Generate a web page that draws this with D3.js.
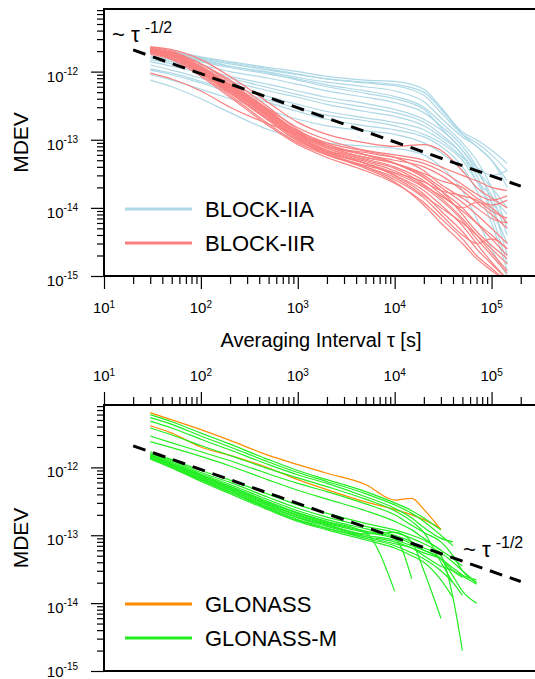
<!DOCTYPE html>
<html>
<head>
<meta charset="utf-8">
<script src="https://cdn.jsdelivr.net/npm/d3@7"></script>
<style>
  body { margin: 0; background: #fff; }
  svg { display: block; font-family: "Liberation Sans", Arial, Helvetica, sans-serif; }
</style>
</head>
<body>
<svg id="chart" width="535" height="679"></svg>
<script>
// averaging intervals (s) the curves were sampled at
const tauTop = [30, 50, 100, 200, 500, 1e3, 2e3, 5e3, 1e4, 2e4, 3e4, 5e4, 7e4, 1e5, 1.45e5];
const tauBottom = [30, 50, 100, 200, 500, 1e3, 2e3, 5e3, 1e4, 1.5e4, 2e4, 3e4, 4e4, 5e4, 7e4];

// GPS BLOCK-IIA clocks (MDEV at tauTop)
const blockIIA = [
  [2.2e-12, 2.0e-12, 1.65e-12, 1.4e-12, 1.15e-12, 1.0e-12, 8.5e-13, 7.5e-13, 7.2e-13, 5.5e-13, 3e-13, 1.3e-13, 1.0e-13, 7e-14, 4.5e-14],
  [2.1e-12, 1.9e-12, 1.55e-12, 1.3e-12, 1.05e-12, 9e-13, 7.8e-13, 6.8e-13, 6.2e-13, 4.5e-13, 2.5e-13, 1.2e-13, 9e-14, 6e-14, 3.5e-14],
  [2.0e-12, 1.8e-12, 1.45e-12, 1.2e-12, 9.8e-13, 8.2e-13, 7e-13, 6e-13, 5.2e-13, 3.6e-13, 2.1e-13, 1.1e-13, 8e-14, 5e-14, 2e-14],
  [1.9e-12, 1.7e-12, 1.4e-12, 1.15e-12, 9.2e-13, 7.8e-13, 6.4e-13, 5.2e-13, 4.3e-13, 3e-13, 1.8e-13, 9e-14, 5e-14, 2e-14, 5e-15],
  [1.7e-12, 1.5e-12, 1.25e-12, 1.0e-12, 8e-13, 6.5e-13, 5.2e-13, 4.2e-13, 3.5e-13, 2.5e-13, 1.6e-13, 8e-14, 4e-14, 1.2e-14, 2e-15],
  [1.6e-12, 1.4e-12, 1.1e-12, 8.5e-13, 6.5e-13, 5.2e-13, 4.2e-13, 3.4e-13, 2.8e-13, 2e-13, 1.4e-13, 7e-14, 3.5e-14, 1.5e-14, 4e-15],
  [1.4e-12, 1.2e-12, 9.5e-13, 7.2e-13, 5.2e-13, 4.2e-13, 3.3e-13, 2.6e-13, 2.2e-13, 1.6e-13, 1.1e-13, 6e-14, 3e-14, 8e-15, 1.5e-15],
  [1.25e-12, 1.05e-12, 8e-13, 6e-13, 4.3e-13, 3.3e-13, 2.6e-13, 2.1e-13, 1.8e-13, 1.4e-13, 1.0e-13, 5.5e-14, 3.5e-14, 2e-14, 1e-14],
  [1.05e-12, 9e-13, 6.8e-13, 5e-13, 3.5e-13, 2.6e-13, 2e-13, 1.6e-13, 1.4e-13, 1.1e-13, 8e-14, 4e-14, 1.8e-14, 6e-15, 1.2e-15],
  [9e-13, 7.5e-13, 5.5e-13, 4e-13, 2.7e-13, 2e-13, 1.6e-13, 1.35e-13, 1.2e-13, 9e-14, 6.5e-14, 3.5e-14, 2e-14, 1.2e-14, 6e-15],
  [7.5e-13, 6e-13, 4e-13, 2.5e-13, 1.4e-13, 1.05e-13, 9e-14, 8e-14, 7.5e-14, 6e-14, 4e-14, 1.8e-14, 7e-15, 2.5e-15, 1e-15],
  [2.0e-12, 1.8e-12, 1.5e-12, 1.2e-12, 9.5e-13, 7.5e-13, 6e-13, 4.8e-13, 4e-13, 2.8e-13, 1.5e-13, 7e-14, 4e-14, 3e-14, 3.5e-14],
  [1.5e-12, 1.3e-12, 1.0e-12, 8e-13, 5.8e-13, 4.6e-13, 3.7e-13, 3e-13, 2.5e-13, 1.8e-13, 1.2e-13, 6e-14, 2.5e-14, 1e-14, 3e-15],
  [1.1e-12, 9.5e-13, 7.2e-13, 5.3e-13, 3.8e-13, 2.9e-13, 2.3e-13, 1.9e-13, 1.6e-13, 1.2e-13, 9e-14, 5e-14, 2.5e-14, 1.5e-14, 8e-15],
  [2.1e-12, 1.9e-12, 1.6e-12, 1.35e-12, 1.1e-12, 9.2e-13, 7.8e-13, 7e-13, 6.5e-13, 5e-13, 2.8e-13, 1.2e-13, 8e-14, 5e-14, 2.5e-14]
];

// GPS BLOCK-IIR clocks (MDEV at tauTop)
const blockIIR = [
  [9.5e-13, 7.8e-13, 5.2e-13, 3e-13, 1.7e-13, 1.2e-13, 8.5e-14, 6e-14, 4.5e-14, 2.8e-14, 1.8e-14, 1e-14, 6e-15, 3.5e-15, 2e-15],
  [2.3e-12, 2.1e-12, 1.5e-12, 8.5e-13, 3.5e-13, 1.8e-13, 1.2e-13, 9e-14, 8e-14, 8.5e-14, 7e-14, 3.5e-14, 2e-14, 1.4e-14, 1e-14],
  [2.2e-12, 1.9e-12, 1.3e-12, 7e-13, 2.8e-13, 1.5e-13, 1e-13, 7e-14, 6e-14, 5e-14, 4e-14, 3e-14, 2.5e-14, 2e-14, 1.8e-14],
  [2.1e-12, 1.8e-12, 1.2e-12, 6.5e-13, 2.6e-13, 1.3e-13, 8e-14, 5.5e-14, 4.5e-14, 3e-14, 2e-14, 1.2e-14, 8e-15, 5e-15, 3e-15],
  [2.0e-12, 1.7e-12, 1.1e-12, 6e-13, 2.4e-13, 1.2e-13, 7.5e-14, 5e-14, 3.8e-14, 2.2e-14, 1.4e-14, 7e-15, 4e-15, 2.2e-15, 1.2e-15],
  [2.2e-12, 1.8e-12, 1.0e-12, 5e-13, 2e-13, 1.1e-13, 7e-14, 5.2e-14, 4e-14, 2.5e-14, 1.6e-14, 1e-14, 1.2e-14, 1e-14, 6e-15],
  [1.9e-12, 1.6e-12, 9.5e-13, 4.8e-13, 1.9e-13, 9.5e-14, 6.5e-14, 4.5e-14, 3e-14, 1.6e-14, 9e-15, 4.5e-15, 2.5e-15, 1.5e-15, 9e-16],
  [2.1e-12, 1.7e-12, 1.0e-12, 5.2e-13, 2.2e-13, 1.1e-13, 6.5e-14, 4e-14, 2.8e-14, 1.5e-14, 1e-14, 6e-15, 4e-15, 2.5e-15, 1.5e-15],
  [2.0e-12, 1.6e-12, 9e-13, 4.5e-13, 1.7e-13, 9e-14, 6e-14, 4.2e-14, 3.2e-14, 2e-14, 1.3e-14, 6.5e-15, 3.5e-15, 2e-15, 1.1e-15],
  [2.3e-12, 2.0e-12, 1.3e-12, 7.5e-13, 3e-13, 1.4e-13, 8.5e-14, 6e-14, 5e-14, 4e-14, 3e-14, 1.8e-14, 1.2e-14, 8e-15, 5e-15],
  [1.8e-12, 1.5e-12, 8.5e-13, 4.2e-13, 1.6e-13, 8.5e-14, 5.5e-14, 3.5e-14, 2.3e-14, 1.2e-14, 7e-15, 3.5e-15, 2e-15, 1.3e-15, 8e-16],
  [2.2e-12, 1.9e-12, 1.2e-12, 6.5e-13, 2.7e-13, 1.3e-13, 8e-14, 6.5e-14, 5.5e-14, 4.5e-14, 3.5e-14, 2.2e-14, 1.6e-14, 1.3e-14, 1.5e-14],
  [2.0e-12, 1.7e-12, 1.0e-12, 5.3e-13, 2.1e-13, 1.0e-13, 6e-14, 4e-14, 2.6e-14, 1.4e-14, 8e-15, 4e-15, 3e-15, 3.5e-15, 2.5e-15],
  [2.1e-12, 1.8e-12, 1.1e-12, 5.8e-13, 2.3e-13, 1.15e-13, 7e-14, 4.8e-14, 3.5e-14, 2.1e-14, 1.5e-14, 9e-15, 6e-15, 4e-15, 2.5e-15],
  [1.9e-12, 1.6e-12, 9.5e-13, 5e-13, 2e-13, 1.0e-13, 6.5e-14, 4.5e-14, 3.3e-14, 2.4e-14, 1.8e-14, 1.5e-14, 1.3e-14, 9e-15, 7e-15],
  [2.2e-12, 1.8e-12, 1.1e-12, 6e-13, 2.5e-13, 1.25e-13, 8e-14, 6e-14, 4.5e-14, 2.8e-14, 1.8e-14, 8e-15, 4.5e-15, 2.8e-15, 1.8e-15],
  [2.0e-12, 1.7e-12, 1.05e-12, 5.6e-13, 2.3e-13, 1.05e-13, 6.2e-14, 3.8e-14, 2.4e-14, 1.1e-14, 6e-15, 3e-15, 1.8e-15, 1.2e-15, 8e-16],
  [2.1e-12, 1.75e-12, 1.1e-12, 6.2e-13, 2.6e-13, 1.35e-13, 9e-14, 6.8e-14, 5.5e-14, 3.5e-14, 2.2e-14, 1.4e-14, 1e-14, 7e-15, 6e-15],
  [1.9e-12, 1.55e-12, 9.8e-13, 5.5e-13, 2.2e-13, 1.1e-13, 6.8e-14, 4.5e-14, 3e-14, 1.8e-14, 1.1e-14, 5.5e-15, 3e-15, 1.6e-15, 9e-16],
  [2.2e-12, 1.9e-12, 1.15e-12, 6.3e-13, 2.6e-13, 1.2e-13, 7.5e-14, 5.5e-14, 4.5e-14, 3.2e-14, 2.5e-14, 2e-14, 1.4e-14, 1.1e-14, 1.3e-14]
];

// GLONASS clocks (MDEV at tauBottom, null = no data)
const glonass = [
  [6.4e-12, 5.0e-12, 3.6e-12, 2.5e-12, 1.5e-12, 1.1e-12, 8.2e-13, 5.6e-13, 3.3e-13, 3.5e-13, 2.4e-13, 1.2e-13, null, null, null],
  [4.1e-12, 3.2e-12, 2.0e-12, 1.5e-12, 9.8e-13, 6.6e-13, 4.7e-13, 3.1e-13, 2.4e-13, 2e-13, 1.7e-13, 1.25e-13, null, null, null]
];

// GLONASS-M clocks (MDEV at tauBottom)
const glonassM = [
  [6.0e-12, 4.7e-12, 3.2e-12, 2.2e-12, 1.3e-12, 9e-13, 6.6e-13, 4.4e-13, 3e-13, 2.3e-13, 1.8e-13, 1.2e-13, null, null, null],
  [5.4e-12, 4.3e-12, 2.9e-12, 2.0e-12, 1.2e-12, 8.4e-13, 6.2e-13, 4.1e-13, 2.8e-13, 2.1e-13, 1.6e-13, 1.0e-13, 7e-14, null, null],
  [4.8e-12, 3.8e-12, 2.6e-12, 1.8e-12, 1.1e-12, 7.8e-13, 5.8e-13, 3.7e-13, 2.5e-13, 1.8e-13, 1.3e-13, 9e-14, 8e-14, null, null],
  [3.8e-12, 3.0e-12, 2.1e-12, 1.5e-12, 9.5e-13, 7e-13, 5.2e-13, 3.4e-13, 2.3e-13, 1.6e-13, 1.1e-13, 4e-14, 2e-14, null, null],
  [2.9e-12, 2.3e-12, 1.7e-12, 1.25e-12, 8e-13, 5.8e-13, 4.4e-13, 2.9e-13, 2e-13, 1.4e-13, 1.1e-13, 8e-14, 5e-14, 3e-14, 2e-14],
  [2.4e-12, 1.95e-12, 1.45e-12, 1.05e-12, 6.5e-13, 4.6e-13, 3.4e-13, 2.3e-13, 1.6e-13, 1.2e-13, 9e-14, 6e-14, 4.5e-14, 3.5e-14, null],
  [1.7e-12, 1.3e-12, 9e-13, 6.5e-13, 4e-13, 2.8e-13, 2.1e-13, 1.5e-13, 1.2e-13, 1e-13, 8.5e-14, 6e-14, null, null, null],
  [1.6e-12, 1.25e-12, 8.4e-13, 6e-13, 3.6e-13, 2.5e-13, 1.85e-13, 1.35e-13, 1.1e-13, 9e-14, 7.5e-14, 5.5e-14, 4e-14, 3e-14, 2e-14],
  [1.55e-12, 1.2e-12, 8e-13, 5.6e-13, 3.3e-13, 2.3e-13, 1.7e-13, 1.25e-13, 1e-13, 8e-14, 6.5e-14, 5e-14, 1.2e-14, 2e-15, null],
  [1.5e-12, 1.15e-12, 7.7e-13, 5.3e-13, 3.1e-13, 2.15e-13, 1.6e-13, 1.1e-13, 1.5e-14, null, null, null, null, null, null],
  [1.48e-12, 1.12e-12, 7.4e-13, 5e-13, 2.9e-13, 2e-13, 1.5e-13, 1.1e-13, 9e-14, 2.3e-14, null, null, null, null, null],
  [1.45e-12, 1.1e-12, 7.2e-13, 4.9e-13, 2.8e-13, 1.95e-13, 1.45e-13, 1.05e-13, 1.1e-13, 8e-14, 3e-14, 6e-15, null, null, null],
  [1.42e-12, 1.08e-12, 7e-13, 4.7e-13, 2.7e-13, 1.85e-13, 1.4e-13, 1e-13, 8.5e-14, 7e-14, 6e-14, 4.5e-14, 3e-14, 2.4e-14, null],
  [1.4e-12, 1.05e-12, 6.8e-13, 4.6e-13, 2.6e-13, 1.8e-13, 1.35e-13, 9.5e-14, 7.5e-14, 6.5e-14, 5e-14, 3.5e-14, 3e-14, 2.5e-14, 1.9e-14],
  [1.38e-12, 1.03e-12, 6.6e-13, 4.4e-13, 2.5e-13, 1.7e-13, 1.28e-13, 9e-14, 7e-14, 5.5e-14, 4.5e-14, 3e-14, 2e-14, 1.3e-14, null],
  [1.35e-12, 1e-12, 6.4e-13, 4.3e-13, 2.45e-13, 1.65e-13, 1.25e-13, 9.5e-14, 8e-14, 6.5e-14, 5.5e-14, 4.5e-14, 3.3e-14, 2.6e-14, 2.2e-14],
  [1.32e-12, 9.8e-13, 6.2e-13, 4.1e-13, 2.35e-13, 1.6e-13, 1.2e-13, 8.5e-14, 6.5e-14, 5e-14, 4e-14, 2.2e-14, 1.2e-14, null, null],
  [1.5e-12, 1.14e-12, 7.6e-13, 5.2e-13, 3e-13, 2.1e-13, 1.55e-13, 1.15e-13, 9.5e-14, 7.5e-14, 6e-14, 4.5e-14, 2.5e-14, 1.5e-14, 1e-14]
];

// tau^-1/2 reference line
const refTau = [20, 2e5];
const refMdev = [2.08e-12, 2.08e-14];

// ticks
const xExponents = [1, 2, 3, 4, 5];
const yExponents = [-15, -14, -13, -12];
const minorMult = [2, 3, 4, 5, 6, 7, 8, 9];

const svg = d3.select("#chart");
const x = d3.scaleLog().domain([10, 3.56e5]).range([104, 545]);

const xMinor = [];
xExponents.forEach(e => minorMult.forEach(m => xMinor.push(m * Math.pow(10, e))));
const yMinor = [];
yExponents.forEach(e => minorMult.forEach(m => yMinor.push(m * Math.pow(10, e))));

function drawPanel(p) {
  const y = d3.scaleLog().domain([1e-15, 8.3e-12]).range([p.bottom, p.top]);
  const g = svg.append("g");
  const clipId = "clip" + p.id;
  g.append("clipPath").attr("id", clipId)
    .append("rect").attr("x", 104).attr("y", p.top).attr("width", 441).attr("height", p.bottom - p.top);

  const line = d3.line()
    .defined(d => d[1] != null)
    .x(d => x(d[0]))
    .y(d => y(d[1]))
    .curve(d3.curveMonotoneX);

  const plot = g.append("g").attr("clip-path", `url(#${clipId})`);
  p.groups.forEach(grp => {
    plot.append("g").selectAll("path")
      .data(grp.values)
      .join("path")
      .attr("d", vals => line(vals.map((v, i) => [grp.tau[i], v])))
      .attr("fill", "none")
      .attr("stroke", grp.color)
      .attr("stroke-width", 1.2);
  });

  plot.append("path")
    .attr("d", line(refTau.map((t, i) => [t, refMdev[i]])))
    .attr("fill", "none")
    .attr("stroke", "#000")
    .attr("stroke-width", 3)
    .attr("stroke-dasharray", "13,8");

  // frame
  g.append("rect").attr("x", 104).attr("y", p.top).attr("width", 460).attr("height", p.bottom - p.top)
    .attr("fill", "none").attr("stroke", "#000").attr("stroke-width", 2);

  // y axis
  const yMaj = g.append("g").attr("transform", "translate(104,0)")
    .call(d3.axisLeft(y).tickValues(yExponents.map(e => Math.pow(10, e))).tickSize(13).tickFormat(""));
  const yMin = g.append("g").attr("transform", "translate(104,0)")
    .call(d3.axisLeft(y).tickValues(yMinor.filter(v => v <= 8.3e-12)).tickSize(7).tickFormat(""));
  [yMaj, yMin].forEach(a => { a.select(".domain").remove(); a.selectAll("line").attr("stroke-width", 1.2); });

  g.append("g").selectAll("text")
    .data(yExponents)
    .join("text")
    .attr("x", 78)
    .attr("y", e => Math.min(y(Math.pow(10, e)) + 10, 677))
    .attr("text-anchor", "end")
    .attr("font-size", 15)
    .text("10")
    .append("tspan").attr("dy", -7).attr("font-size", 10).text(e => "-" + Math.abs(e));

  // x axis
  const xAxisFn = p.xTop ? d3.axisTop : d3.axisBottom;
  const xPos = p.xTop ? p.top : p.bottom;
  const xMaj = g.append("g").attr("transform", `translate(0,${xPos})`)
    .call(xAxisFn(x).tickValues(xExponents.map(e => Math.pow(10, e))).tickSize(13).tickFormat(""));
  const xMin = g.append("g").attr("transform", `translate(0,${xPos})`)
    .call(xAxisFn(x).tickValues(xMinor.filter(v => v < 3e5)).tickSize(8).tickFormat(""));
  [xMaj, xMin].forEach(a => { a.select(".domain").remove(); a.selectAll("line").attr("stroke-width", 1.2); });

  g.append("g").selectAll("text")
    .data(xExponents)
    .join("text")
    .attr("x", e => x(Math.pow(10, e)))
    .attr("y", p.xTop ? p.top - 24 : p.bottom + 37)
    .attr("text-anchor", "middle")
    .attr("font-size", 15)
    .text("10")
    .append("tspan").attr("dy", -5).attr("font-size", 10).text(e => e);

  // y title
  g.append("text")
    .attr("transform", `translate(28,${(p.top + p.bottom) / 2}) rotate(-90)`)
    .attr("text-anchor", "middle")
    .attr("font-size", 21)
    .text("MDEV");

  // legend
  p.groups.forEach((grp, i) => {
    const ly = p.legendY + i * 34;
    g.append("line").attr("x1", 125).attr("x2", 192).attr("y1", ly).attr("y2", ly)
      .attr("stroke", grp.color).attr("stroke-width", 3);
    g.append("text").attr("x", 205).attr("y", ly + 8).attr("font-size", 22).text(grp.name);
  });

  // tau^-1/2 note
  const note = g.append("text").attr("x", p.noteX).attr("y", p.noteY).attr("font-size", 22).text("~ τ");
  note.append("tspan").attr("dx", 5).attr("dy", -9).attr("font-size", 16).text("-1/2");
}

drawPanel({
  id: "top", top: 9, bottom: 276, xTop: false, legendY: 209, noteX: 112, noteY: 42,
  groups: [
    { name: "BLOCK-IIA", color: "#add8e6", tau: tauTop, values: blockIIA },
    { name: "BLOCK-IIR", color: "#fa7f7f", tau: tauTop, values: blockIIR }
  ]
});

drawPanel({
  id: "bottom", top: 405, bottom: 671, xTop: true, legendY: 604, noteX: 463, noteY: 557,
  groups: [
    { name: "GLONASS", color: "#ff8c00", tau: tauBottom, values: glonass },
    { name: "GLONASS-M", color: "#22ee22", tau: tauBottom, values: glonassM }
  ]
});

svg.append("text")
  .attr("x", 321)
  .attr("y", 347)
  .attr("text-anchor", "middle")
  .attr("font-size", 20)
  .text("Averaging Interval τ [s]");
</script>
</body>
</html>
